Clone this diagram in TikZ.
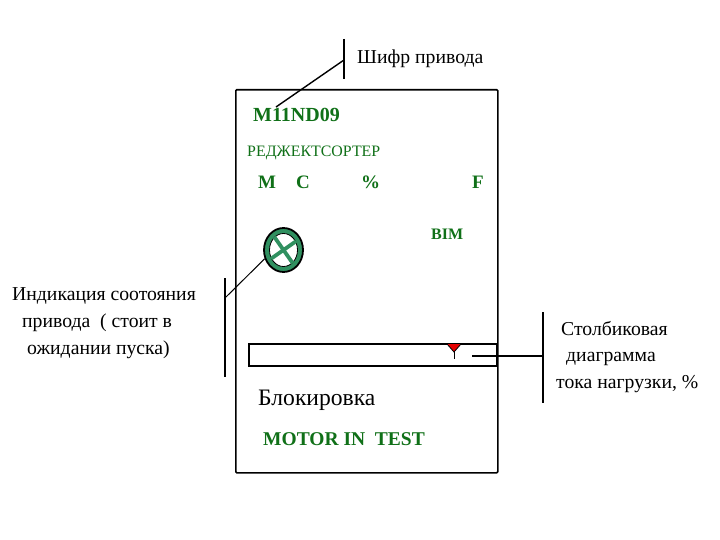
\documentclass[tikz,border=0pt]{standalone}
\usepackage{fontspec}
\usetikzlibrary{shapes.geometric}
\setmainfont{Liberation Serif}
\definecolor{lbl}{RGB}{16,112,24}
\definecolor{ringc}{RGB}{48,144,96}
\tikzset{
  x=1pt,y=-1pt,
  blk/.style={draw=black,line width=1.6pt},
  lead/.style={draw=black,line width=1.4pt},
  note/.style={inner sep=0pt,anchor=west,text=black},
  glabel/.style={inner sep=0pt,anchor=west,text=lbl,font=\bfseries},
}
\begin{document}
\begin{tikzpicture}
\useasboundingbox (0,0) rectangle (720,540);
\node[blk,rounded corners=1pt,minimum width=262pt,minimum height=383pt,inner sep=0pt,anchor=north west] (frame) at (235,89) {};
\node[blk,minimum width=248pt,minimum height=22pt,inner sep=0pt,anchor=north west] (bar) at (248,343) {};
% texts
\node[note,font=\fontsize{19.7}{20}\selectfont] (t1) at (357,59) {Шифр привода};
\node[glabel,font=\bfseries\fontsize{20}{20}\selectfont] (code) at (253,115) {M11ND09};
\node[glabel,font=\fontsize{15.9}{18}\selectfont\mdseries] (rej) at (247,153) {РЕДЖЕКТСОРТЕР};
\node[glabel,font=\bfseries\fontsize{19}{20}\selectfont] (m) at (258,182) {M};
\node[glabel,font=\bfseries\fontsize{19}{20}\selectfont] (c) at (296,182) {C};
\node[glabel,font=\bfseries\fontsize{19}{20}\selectfont] (pc) at (361,182) {\%};
\node[glabel,font=\bfseries\fontsize{19}{20}\selectfont] (f) at (472,182) {F};
\node[glabel,font=\bfseries\fontsize{16}{18}\selectfont] (bim) at (431,234) {BIM};
\node[note,font=\fontsize{19.7}{20}\selectfont] (l1) at (12,296) {Индикация соотояния};
\node[note,font=\fontsize{19.7}{20}\selectfont] (l2) at (22,323) {привода\ \ ( стоит в};
\node[note,font=\fontsize{19.7}{20}\selectfont] (l3) at (27,350) {ожидании пуска)};
\node[note,font=\fontsize{19.7}{20}\selectfont] (r1) at (561,329) {Столбиковая};
\node[note,font=\fontsize{19.7}{20}\selectfont] (r2) at (566,359) {диаграмма};
\node[note,font=\fontsize{19.7}{20}\selectfont] (r3) at (556,384) {тока нагрузки, \%};
\node[note,font=\fontsize{23.6}{28}\selectfont] (blk) at (258,400) {Блокировка};
\node[glabel,font=\bfseries\fontsize{19.5}{22}\selectfont] (mot) at (263,439) {MOTOR IN\ \ TEST};
% indicator
\node[draw=black,line width=1.8pt,fill=ringc,ellipse,minimum width=39pt,minimum height=44pt,inner sep=0pt] (ind) at (283.5,250) {};
\node[draw=black,line width=.8pt,fill=white,ellipse,minimum width=28pt,minimum height=33pt,inner sep=0pt] (indin) at (283.5,250) {};
\draw[ringc,line width=3.8pt] (indin.35) -- (indin.215);
\draw[ringc,line width=3.8pt] (indin.125) -- (indin.305);
% pointer
\coordinate (p1) at (447,344);
\coordinate (p2) at (461,344);
\coordinate (p3) at (454,352);
\coordinate (p4) at (454,359);
\fill[red!90!black] (p1) -- (p2) -- (p3) -- cycle;
\draw[black,line width=.8pt] (p1) -- (p3) -- (p2);
\draw[black,line width=.8pt] (p3) -- (p4);
% brackets and leads
\coordinate (a1) at (344,39); \coordinate (a2) at (344,79);
\coordinate (a3) at (344,60); \coordinate (a4) at (276,107);
\draw[lead] (a1) -- (a2);
\draw[lead] (a3) -- (a4);
\coordinate (b1) at (225,278); \coordinate (b2) at (225,377);
\coordinate (b3) at (225,298);
\draw[lead] (b1) -- (b2);
\draw[black,line width=1pt] (b3) -- (ind.205);
\coordinate (c1) at (543,312); \coordinate (c2) at (543,403);
\coordinate (c3) at (543,356); \coordinate (c4) at (472,356);
\draw[lead] (c1) -- (c2);
\draw[lead] (c3) -- (c4);
\end{tikzpicture}
\end{document}
